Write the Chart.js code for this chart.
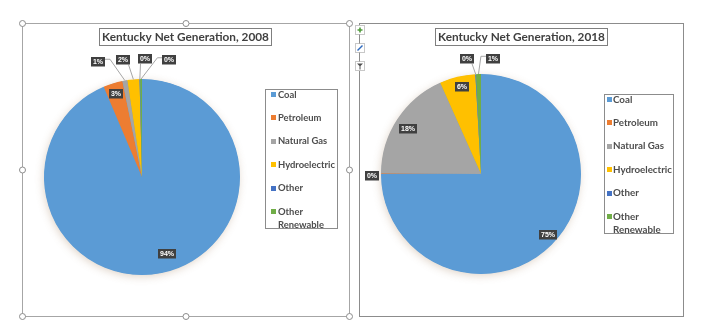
<!DOCTYPE html>
<html><head><meta charset="utf-8">
<script src="https://cdn.jsdelivr.net/npm/chart.js@4.4.1/dist/chart.umd.min.js"></script>
<style>
html,body{margin:0;padding:0;background:#fff;}
#wrap{position:relative;width:707px;height:330px;overflow:hidden;background:#fff;}
canvas{position:absolute;left:0;top:0;}
</style></head><body>
<div id="wrap"><canvas id="c1" width="707" height="330"></canvas><canvas id="c2" width="707" height="330"></canvas></div>
<script>
// ---- data ----
const categories = ['Coal', 'Petroleum', 'Natural Gas', 'Hydroelectric', 'Other', 'Other Renewable'];
const share2008 = [93.6, 3.2, 0.8, 2.0, 0.1, 0.3];
const share2018 = [75.0, 0.1, 18.2, 5.8, 0.1, 0.8];
const sliceColors = ['#5b9bd5', '#ed7d31', '#a5a5a5', '#ffc000', '#4472c4', '#70ad47'];
const chartTitles = ['Kentucky Net Generation, 2008', 'Kentucky Net Generation, 2018'];

// ---- layout / style (not data) ----
const layout2008 = {
  pad: {left: 44, right: 467, top: 79, bottom: 55},
  frame: {x: 22.5, y: 23.5, w: 327, h: 293, color: '#a6a6a6', handles: true},
  title: {x0: 99, x1: 272, y0: 28, y1: 46},
  legend: {x0: 265, x1: 338, y0: 89, y1: 229, first: 94.5, step: 23.4, mx: 271, tx: 278, lineH: 13, fitW: 57},
  labels: [{f: 0.82, da: -6.5}, {f: 0.89, da: 0}, {out: [-26.9, -19]}, {out: [-9.9, -19.4]}, {out: [5.7, -20]}, {out: [28.4, -19]}]
};
const layout2018 = {
  pad: {left: 381, right: 126, top: 74, bottom: 56},
  frame: {x: 359.5, y: 23.5, w: 324, h: 293, color: '#8c8c8c', handles: false, toolbar: true},
  title: {x0: 435, x1: 608, y0: 28, y1: 46},
  legend: {x0: 604, x1: 674, y0: 94, y1: 234, first: 99.5, step: 23.4, mx: 607, tx: 613, lineH: 13, fitW: 59},
  labels: [{f: 0.9, da: -2.8}, {out: [-8.5, 2.5]}, {f: 0.86, da: -1}, {f: 0.89, da: 1.7}, {out: [-8.7, -15.1]}, {out: [14.5, -15.5]}]
};

function wrapText(ctx, text, maxW) {
  const words = text.split(' ');
  const lines = [];
  let cur = '';
  words.forEach(w => {
    const t = cur ? cur + ' ' + w : w;
    if (ctx.measureText(t).width > maxW && cur) { lines.push(cur); cur = w; }
    else cur = t;
  });
  if (cur) lines.push(cur);
  return lines;
}

const decorPlugin = {
  id: 'decor',
  beforeDraw(chart, args, o) {
    const L = o.layout, ctx = chart.ctx, F = L.frame;
    ctx.save();
    ctx.strokeStyle = F.color; ctx.lineWidth = 1;
    ctx.strokeRect(F.x, F.y, F.w, F.h);
    ctx.restore();
  },
  beforeDatasetsDraw(chart) {
    const meta = chart.getDatasetMeta(0);
    const a = meta.data[0].getProps(['x', 'y', 'outerRadius'], true);
    const ctx = chart.ctx;
    ctx.save();
    ctx.shadowColor = 'rgba(150,110,70,0.30)';
    ctx.shadowBlur = 9; ctx.shadowOffsetX = -1; ctx.shadowOffsetY = 2;
    ctx.beginPath(); ctx.arc(a.x, a.y, a.outerRadius - 0.5, 0, Math.PI * 2);
    ctx.fillStyle = sliceColors[0]; ctx.fill();
    ctx.restore();
  },
  afterDatasetsDraw(chart, args, o) {
    const L = o.layout, ctx = chart.ctx;
    const ds = chart.data.datasets[0];
    const total = ds.data.reduce((s, v) => s + v, 0);
    const meta = chart.getDatasetMeta(0);
    ctx.save();
    ctx.font = 'bold 7px "Liberation Sans", Arial, sans-serif';
    ctx.textAlign = 'center'; ctx.textBaseline = 'middle';
    meta.data.forEach((arc, i) => {
      const p = arc.getProps(['x', 'y', 'startAngle', 'endAngle', 'outerRadius'], true);
      const mid = (p.startAngle + p.endAngle) / 2;
      const cfg = L.labels[i];
      const txt = Math.round(ds.data[i] / total * 100) + '%';
      const tw = ctx.measureText(txt).width;
      const bw = tw + 4, bh = 9.5;
      let cx, cy;
      if (cfg.out) {
        const px = p.x + Math.cos(mid) * p.outerRadius;
        const py = p.y + Math.sin(mid) * p.outerRadius;
        cx = px + cfg.out[0]; cy = py + cfg.out[1];
        const bx0 = cx - bw / 2, bx1 = cx + bw / 2, by0 = cy - bh / 2, by1 = cy + bh / 2;
        const gap = Math.hypot(cfg.out[0], cfg.out[1]);
        if (gap > 12) {
          ctx.strokeStyle = '#a6a6a6'; ctx.lineWidth = 1;
          ctx.beginPath();
          if (px >= bx0 - 4 && px <= bx1 + 4) {
            const ax = Math.min(Math.max(px, bx0 + 2), bx1 - 2);
            ctx.moveTo(ax, by1); ctx.lineTo(px, py);
          } else {
            const right = px > bx1;
            const ax = right ? bx1 : bx0;
            const ay = by0 + 2.5;
            ctx.moveTo(ax, ay); ctx.lineTo(ax + (right ? 5 : -5), ay); ctx.lineTo(px, py);
          }
          ctx.stroke();
        }
      } else {
        const ang = mid + (cfg.da || 0) * Math.PI / 180;
        cx = p.x + Math.cos(ang) * p.outerRadius * cfg.f;
        cy = p.y + Math.sin(ang) * p.outerRadius * cfg.f;
      }
      ctx.fillStyle = '#404040';
      ctx.fillRect(Math.round(cx - bw / 2), Math.round(cy - bh / 2), Math.round(bw), bh);
      ctx.fillStyle = '#ffffff';
      ctx.fillText(txt, Math.round(cx - bw / 2) + Math.round(bw) / 2, Math.round(cy - bh / 2) + bh / 2 + 0.5);
    });
    ctx.restore();
  },
  afterDraw(chart, args, o) {
    const L = o.layout, ctx = chart.ctx;
    // title
    const T = L.title;
    ctx.save();
    ctx.fillStyle = '#fff';
    ctx.fillRect(T.x0, T.y0, T.x1 - T.x0, T.y1 - T.y0);
    ctx.strokeStyle = '#7f7f7f'; ctx.lineWidth = 1;
    ctx.strokeRect(T.x0 + 0.5, T.y0 + 0.5, T.x1 - T.x0 - 1, T.y1 - T.y0 - 1);
    let fs = 13;
    ctx.font = 'bold ' + fs + 'px Lato, sans-serif';
    const target = T.x1 - T.x0 - 6;
    const w0 = ctx.measureText(o.title).width;
    fs = fs * target / w0;
    ctx.font = 'bold ' + fs.toFixed(2) + 'px Lato, sans-serif';
    ctx.fillStyle = '#404040'; ctx.textAlign = 'center'; ctx.textBaseline = 'middle';
    ctx.fillText(o.title, (T.x0 + T.x1) / 2, (T.y0 + T.y1) / 2 + 0.5);
    ctx.restore();
    // legend
    const G = L.legend, ds = chart.data.datasets[0];
    ctx.save();
    ctx.fillStyle = '#fff';
    ctx.fillRect(G.x0, G.y0, G.x1 - G.x0, G.y1 - G.y0);
    ctx.strokeStyle = '#8c8c8c'; ctx.lineWidth = 1;
    ctx.strokeRect(G.x0 + 0.5, G.y0 + 0.5, G.x1 - G.x0 - 1, G.y1 - G.y0 - 1);
    ctx.font = 'bold 10px Lato, sans-serif';
    const ref = ctx.measureText('Hydroelectric').width;
    const lfs = 10 * G.fitW / ref;
    ctx.font = 'bold ' + lfs.toFixed(2) + 'px Lato, sans-serif';
    ctx.textBaseline = 'middle'; ctx.textAlign = 'left';
    chart.data.labels.forEach((lab, i) => {
      const y = G.first + i * G.step;
      ctx.fillStyle = ds.backgroundColor[i];
      ctx.fillRect(G.mx, Math.round(y - 2.5), 5, 5);
      ctx.fillStyle = '#4d4d4d';
      wrapText(ctx, lab, G.x1 - G.tx - 1).forEach((t, k) => ctx.fillText(t, G.tx, y + k * G.lineH));
    });
    ctx.restore();
    // handles / toolbar
    const F = L.frame;
    ctx.save();
    if (F.handles) {
      const xs = [F.x, F.x + F.w / 2, F.x + F.w], ys = [F.y, F.y + F.h / 2, F.y + F.h];
      ys.forEach((yy, yi) => xs.forEach((xx, xi) => {
        if (xi === 1 && yi === 1) return;
        ctx.beginPath(); ctx.arc(xx, yy, 3, 0, Math.PI * 2);
        ctx.fillStyle = '#fff'; ctx.fill();
        ctx.strokeStyle = '#8c8c8c'; ctx.lineWidth = 1; ctx.stroke();
      }));
    }
    if (F.toolbar) {
      const bx = 355.5, bs = 9;
      const tops = [25.5, 43.5, 61.5];
      tops.forEach(t => {
        ctx.fillStyle = '#fff'; ctx.fillRect(bx, t, bs, bs);
        ctx.strokeStyle = '#c8c8c8'; ctx.strokeRect(bx, t, bs, bs);
      });
      ctx.strokeStyle = '#8c8c8c';
      ctx.beginPath(); ctx.moveTo(359.5, 34.5); ctx.lineTo(359.5, 43.5); ctx.moveTo(359.5, 52.5); ctx.lineTo(359.5, 61.5); ctx.stroke();
      ctx.strokeStyle = '#4f9a3a'; ctx.lineWidth = 1.6;
      ctx.beginPath(); ctx.moveTo(bx + 4.5, tops[0] + 2); ctx.lineTo(bx + 4.5, tops[0] + 7); ctx.moveTo(bx + 2, tops[0] + 4.5); ctx.lineTo(bx + 7, tops[0] + 4.5); ctx.stroke();
      ctx.strokeStyle = '#2e6bbf'; ctx.lineWidth = 1.4;
      ctx.beginPath(); ctx.moveTo(bx + 2, tops[1] + 7); ctx.lineTo(bx + 7, tops[1] + 2); ctx.stroke();
      ctx.fillStyle = '#505050';
      ctx.beginPath(); ctx.moveTo(bx + 1.5, tops[2] + 2); ctx.lineTo(bx + 7.5, tops[2] + 2); ctx.lineTo(bx + 5, tops[2] + 4.5);
      ctx.lineTo(bx + 5, tops[2] + 8); ctx.lineTo(bx + 4, tops[2] + 8); ctx.lineTo(bx + 4, tops[2] + 4.5); ctx.closePath(); ctx.fill();
    }
    ctx.restore();
  }
};

function makeChart(id, values, layout, title) {
  return new Chart(document.getElementById(id), {
    type: 'pie',
    data: {
      labels: categories,
      datasets: [{data: values, backgroundColor: sliceColors, borderWidth: 0}]
    },
    options: {
      responsive: false,
      animation: false,
      layout: {padding: layout.pad},
      plugins: {
        legend: {display: false},
        tooltip: {enabled: false},
        decor: {layout: layout, title: title}
      }
    },
    plugins: [decorPlugin]
  });
}

makeChart('c1', share2008, layout2008, chartTitles[0]);
makeChart('c2', share2018, layout2018, chartTitles[1]);
</script>
</body></html>
